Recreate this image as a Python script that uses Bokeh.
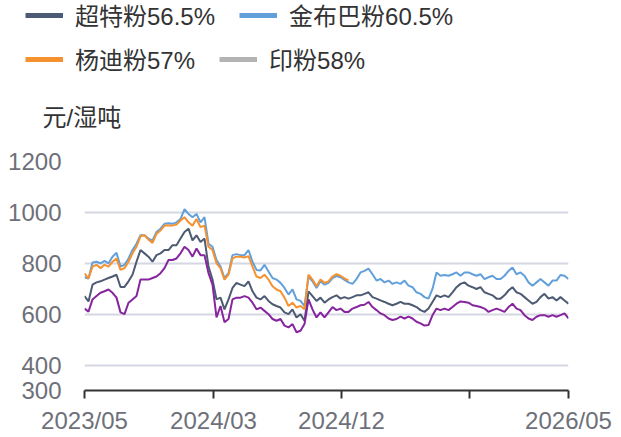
from bokeh.plotting import figure
from bokeh.models import Legend, LegendItem, Label, FixedTicker
from bokeh.embed import file_html
from bokeh.resources import INLINE

# trading-day index (sampled every 4 days)
day = list(range(0, 485, 4))

tick_pos = [0, 129, 257, 385, 484]
tick_labels = ["2023/05", "2024/03", "2024/12", "", "2026/05"]
y_ticks = [300, 400, 600, 800, 1000, 1200]

# 超特粉56.5%
chaote = [671, 650, 716, 725, 729, 736, 742, 748, 755, 707,
          707, 729, 755, 806, 852, 839, 826, 806, 832, 839,
          852, 852, 871, 871, 897, 923, 936, 890, 910, 884,
          897, 787, 736, 658, 665, 619, 658, 703, 723, 716,
          710, 729, 690, 665, 658, 671, 652, 639, 632, 626,
          607, 600, 619, 587, 600, 574, 690, 671, 652, 665,
          645, 658,
          667, 674, 661, 667, 661, 667, 674, 674, 680, 686,
          667, 661, 654, 648, 641, 635, 641, 648, 641, 641,
          635, 628, 616, 609, 622, 648, 674, 667, 674, 667,
          686, 706, 719, 725, 712, 706, 699, 706, 686, 680,
          674, 661, 661, 674, 693, 706, 686, 680, 667, 654,
          641, 648, 667, 680, 661, 667, 654, 667, 654, 641]

# 金布巴粉60.5%
jinbuba = [745, 740, 803, 806, 800, 809, 800, 826, 841, 787,
           794, 819, 852, 877, 910, 910, 897, 890, 923, 936,
           955, 957, 955, 961, 974, 1013, 994, 981, 994, 961,
           981, 877, 865, 813, 787, 742, 761, 832, 836, 832,
           832, 852, 806, 774, 772, 794, 768, 742, 736, 723,
           703, 677, 697, 658, 652, 632, 748, 729, 703, 729,
           716, 723,
           742, 750, 745, 735, 725, 719, 738, 764, 770, 779,
           757, 732, 738, 725, 732, 719, 725, 719, 732, 712,
           706, 686, 680, 667, 661, 699, 764, 751, 754, 751,
           757, 764, 751, 764, 764, 757, 751, 757, 738, 745,
           751, 738, 738, 751, 770, 783, 757, 764, 751, 725,
           712, 725, 738, 725, 712, 732, 732, 754, 751, 738]

# 杨迪粉57%
yangdi = [760, 740, 787, 794, 781, 794, 787, 806, 819, 774,
          781, 806, 839, 865, 906, 910, 893, 880, 916, 929,
          948, 948, 948, 952, 968, 981, 961, 948, 974, 942,
          948, 865, 852, 800, 781, 736, 755, 819, 826, 826,
          823, 828, 787, 748, 742, 755, 736, 710, 697, 690,
          665, 632, 645, 626, 632, 619, 755, 736, 710, 736,
          723, 729, 748, 757, 751, 741, 732]

# fifth series (not in legend)
other = [622, 610, 658, 671, 684, 690, 697, 684, 665, 607,
         600, 645, 658, 671, 736, 736, 736, 742, 748, 761,
         781, 813, 813, 819, 839, 865, 852, 826, 858, 832,
         832, 761, 716, 587, 632, 568, 581, 658, 665, 665,
         671, 665, 645, 619, 626, 613, 600, 581, 574, 581,
         555, 548, 561, 529, 535, 561, 658, 619, 587, 607,
         587, 607,
         628, 616, 622, 609, 609, 622, 628, 635, 637, 648,
         628, 616, 603, 596, 583, 577, 581, 590, 583, 590,
         583, 570, 564, 555, 557, 596, 622, 616, 622, 616,
         628, 641, 650, 648, 645, 635, 632, 628, 622, 609,
         616, 622, 616, 609, 628, 641, 622, 616, 596, 583,
         577, 590, 596, 596, 590, 596, 590, 596, 603, 583]

names = ["超特粉56.5%", "金布巴粉60.5%", "杨迪粉57%", "印粉58%"]
colors = ["#4d5a73", "#62a0db", "#f5922f", "#b3b3b3"]
purple = "#86259d"

FONT = "Liberation Sans, Noto Sans CJK SC"
W = 613
TOP_H = 140
NAN = float("nan")

# ---------- top strip: legend + unit title ----------
top = figure(width=W, height=TOP_H, x_range=(0, W), y_range=(0, TOP_H),
             x_axis_type=None, y_axis_type=None,
             output_backend="svg", toolbar_location=None, min_border=0)
top.outline_line_color = None
top.border_fill_color = "white"
top.background_fill_color = "white"

# legend-only renderers (a single NaN point draws nothing)
leg_r = [top.line([NAN], [NAN], line_color=c, line_width=5) for c in colors]

def make_legend(idx, loc):
    return Legend(items=[LegendItem(label=names[i], renderers=[leg_r[i]]) for i in idx],
                  orientation="horizontal", location=loc,
                  padding=0, margin=0, spacing=24, label_standoff=12,
                  glyph_width=38, glyph_height=30, label_height=30,
                  border_line_color=None, background_fill_alpha=0,
                  label_text_font=FONT, label_text_font_size="24px",
                  label_text_color="#333333")

top.add_layout(make_legend([0, 1], (25, 108)), "center")
top.add_layout(make_legend([2, 3], (25, 64)), "center")
top.add_layout(Label(x=42, y=23, x_units="screen", y_units="screen", text="元/湿吨",
                     text_baseline="middle", text_align="left", text_font=FONT,
                     text_font_size="24px", text_color="#333333"))

# ---------- main chart ----------
p = figure(width=W, height=296, x_range=(0, 484), y_range=(300, 1200),
           output_backend="svg", toolbar_location=None,
           min_border_left=84, min_border_right=45,
           min_border_top=21, min_border_bottom=43)
p.outline_line_color = None
p.background_fill_color = "white"
p.border_fill_color = "white"

p.line(day, chaote, line_color=colors[0], line_width=2)
p.line(day, jinbuba, line_color=colors[1], line_width=2)
p.line(day[:len(yangdi)], yangdi, line_color=colors[2], line_width=2)
p.line(day, other, line_color=purple, line_width=2)

p.xaxis.ticker = FixedTicker(ticks=tick_pos)
p.xaxis.major_label_overrides = {k: v for k, v in zip(tick_pos, tick_labels)}
p.xaxis.axis_line_color = "#333333"
p.xaxis.axis_line_width = 2
p.xaxis.major_tick_line_color = "#333333"
p.xaxis.major_tick_line_width = 2
p.xaxis.major_tick_in = 0
p.xaxis.major_tick_out = 8
p.xaxis.minor_tick_line_color = None
p.xaxis.major_label_standoff = 8
p.xaxis.major_label_text_font = FONT
p.xaxis.major_label_text_font_size = "24px"
p.xaxis.major_label_text_color = "#6e7079"
p.xgrid.visible = False

p.yaxis.ticker = FixedTicker(ticks=y_ticks)
p.yaxis.axis_line_color = None
p.yaxis.major_tick_line_color = None
p.yaxis.minor_tick_line_color = None
p.yaxis.major_label_standoff = 17
p.yaxis.major_label_text_font = FONT
p.yaxis.major_label_text_font_size = "24px"
p.yaxis.major_label_text_color = "#6e7079"
p.ygrid.grid_line_color = "#d5d8e3"
p.ygrid.grid_line_width = 2

open("out.html", "w").write(file_html([top, p], INLINE))
